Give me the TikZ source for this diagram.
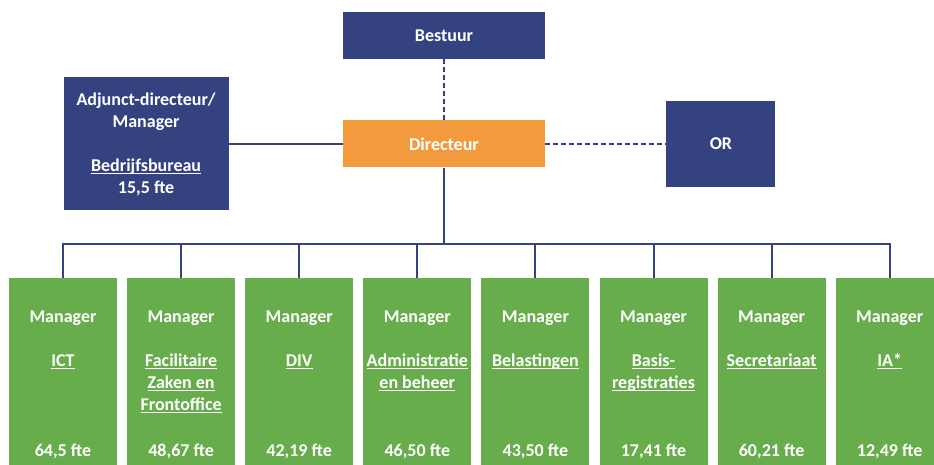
\documentclass[tikz,border=0pt]{standalone}
\usepackage{fontspec}
\setmainfont{Carlito}
\usetikzlibrary{positioning}

\definecolor{navy}{RGB}{53,66,128}
\definecolor{dirorange}{RGB}{242,154,62}
\definecolor{mgrgreen}{RGB}{103,173,76}

% underline at a fixed depth, so descenders do not push it down
\newcommand{\lineunder}[1]{\leavevmode\setbox0\hbox{#1}\rlap{\rule[-2.6pt]{\wd0}{1.1pt}}\box0}

\begin{document}
\begin{tikzpicture}[
  x=1pt, y=-1pt,
  font=\bfseries\fontsize{18}{22}\selectfont,
  navybox/.style={fill=navy, text=white, align=center, inner sep=0pt},
  mgrbox/.style={fill=mgrgreen, text=white, inner sep=0pt,
                 minimum width=108pt, minimum height=194pt},
  link/.style={draw=navy, line width=2pt},
  dashlink/.style={link, dash pattern=on 5pt off 3pt},
]
\useasboundingbox (0,0) rectangle (934,464);
\clip (0,0) rectangle (934,464);

\node[navybox, minimum width=202pt, minimum height=47pt] (bestuur) at (444,35.5) {Bestuur};
\node[navybox, fill=dirorange, minimum width=202pt, minimum height=47pt,
      below=61pt of bestuur] (directeur) {Directeur};
\node[navybox, minimum width=165pt, minimum height=133pt, left=114pt of directeur] (adjunct)
  {Adjunct-directeur/\\Manager\\[22pt]\lineunder{Bedrijfsbureau}\\15,5 fte};
\node[navybox, minimum width=109pt, minimum height=86pt, right=121pt of directeur] (or) {OR};
\coordinate[below=76pt of directeur] (bus);

% managers under the director
\foreach \i/\unit/\staff in {
    1/{\lineunder{ICT}}/{64,5 fte},
    2/{\lineunder{Facilitaire}\\\lineunder{Zaken en}\\\lineunder{Frontoffice}}/{48,67 fte},
    3/{\lineunder{DIV}}/{42,19 fte},
    4/{\lineunder{Administratie}\\\lineunder{en beheer}}/{46,50 fte},
    5/{\lineunder{Belastingen}}/{43,50 fte},
    6/{\lineunder{Basis-}\\\lineunder{registraties}}/{17,41 fte},
    7/{\lineunder{Secretariaat}}/{60,21 fte},
    8/{\lineunder{IA*}}/{12,49 fte}}
  \node[mgrbox] (m\i) at ({63+118.1*(\i-1)},375)
    {\parbox[c][194pt][t]{108pt}{\centering\vspace*{33pt}Manager\\[22pt]\unit\endgraf\vfill\staff\endgraf\vspace*{13pt}}};

\draw[dashlink] (bestuur) -- (directeur);
\draw[link] (adjunct) -- (directeur);
\draw[dashlink] (directeur.east) -- (directeur.east -| or.west);
\draw[link] (directeur) -- (bus);
\foreach \i in {1,...,8}
  \draw[link] (m\i.north) |- (bus);
\end{tikzpicture}
\end{document}
